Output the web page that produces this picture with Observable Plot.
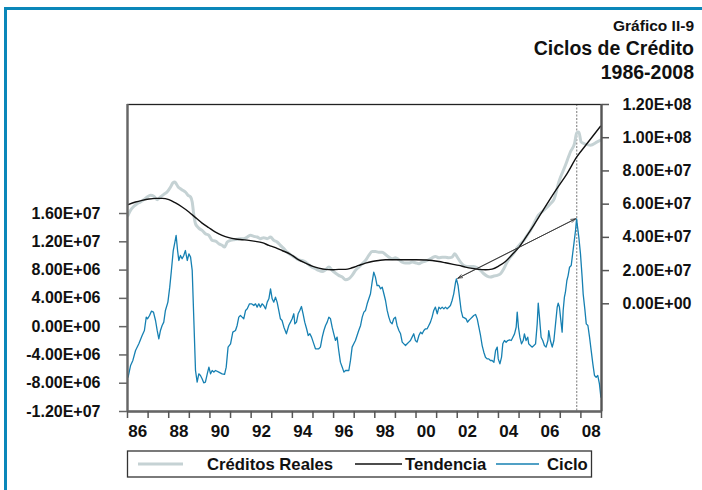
<!DOCTYPE html>
<html><head><meta charset="utf-8">
<script src="https://cdn.jsdelivr.net/npm/d3@7"></script>
<script src="https://cdn.jsdelivr.net/npm/@observablehq/plot@0.6"></script>
<style>
body{margin:0;background:#fff;font-family:"Liberation Sans",Arial,sans-serif;}
#wrap{position:relative;width:702px;height:490px;overflow:hidden;background:#fff;}
#chart,#over{position:absolute;left:0;top:0;}
</style></head>
<body><div id="wrap"><div id="chart"></div><svg id="over" width="702" height="490"></svg></div>
<script>
// values in millions (UNIT)
const UNIT = 1e6;

const cicloYears = [1986.03,1986.15,1986.26,1986.39,1986.55,1986.71,1986.82,1986.91,1986.97,1987.07,1987.16,1987.26,1987.36,1987.44,1987.52,1987.60,1987.68,1987.76,1987.84,1987.96,1988.05,1988.13,1988.22,1988.30,1988.36,1988.43,1988.49,1988.57,1988.65,1988.73,1988.81,1988.90,1988.98,1989.06,1989.14,1989.22,1989.30,1989.38,1989.46,1989.54,1989.62,1989.70,1989.78,1989.87,1989.95,1990.03,1990.11,1990.19,1990.27,1990.43,1990.59,1990.71,1990.79,1990.88,1991.00,1991.11,1991.24,1991.32,1991.40,1991.48,1991.56,1991.64,1991.73,1991.81,1991.92,1992.02,1992.13,1992.21,1992.29,1992.37,1992.45,1992.53,1992.61,1992.70,1992.78,1992.86,1992.94,1993.02,1993.10,1993.18,1993.26,1993.34,1993.42,1993.50,1993.59,1993.71,1993.83,1993.91,1993.99,1994.07,1994.12,1994.20,1994.28,1994.36,1994.44,1994.52,1994.60,1994.69,1994.77,1994.85,1994.93,1995.04,1995.12,1995.28,1995.36,1995.45,1995.53,1995.61,1995.69,1995.77,1995.85,1995.93,1996.01,1996.09,1996.17,1996.25,1996.33,1996.42,1996.50,1996.58,1996.66,1996.74,1996.82,1996.90,1996.98,1997.06,1997.14,1997.22,1997.31,1997.39,1997.47,1997.55,1997.63,1997.71,1997.79,1997.87,1997.95,1998.03,1998.11,1998.20,1998.28,1998.36,1998.44,1998.52,1998.60,1998.68,1998.76,1998.84,1998.92,1999.00,1999.08,1999.17,1999.25,1999.33,1999.41,1999.49,1999.57,1999.65,1999.73,1999.81,1999.89,1999.97,2000.05,2000.14,2000.22,2000.30,2000.38,2000.46,2000.54,2000.62,2000.70,2000.78,2000.86,2000.94,2001.03,2001.11,2001.19,2001.27,2001.35,2001.43,2001.51,2001.59,2001.67,2001.75,2001.83,2001.92,2001.96,2002.04,2002.11,2002.19,2002.27,2002.35,2002.43,2002.50,2002.56,2002.64,2002.72,2002.80,2002.89,2002.97,2003.05,2003.13,2003.21,2003.29,2003.37,2003.45,2003.53,2003.61,2003.69,2003.78,2003.86,2003.94,2003.99,2004.07,2004.15,2004.21,2004.29,2004.37,2004.45,2004.54,2004.62,2004.70,2004.78,2004.86,2004.91,2004.97,2005.04,2005.12,2005.20,2005.26,2005.34,2005.42,2005.47,2005.55,2005.63,2005.72,2005.80,2005.88,2005.93,2005.99,2006.07,2006.15,2006.23,2006.31,2006.40,2006.44,2006.52,2006.61,2006.69,2006.77,2006.85,2006.90,2006.96,2007.01,2007.09,2007.14,2007.20,2007.25,2007.32,2007.38,2007.45,2007.53,2007.58,2007.66,2007.74,2007.79,2007.83,2007.90,2007.98,2008.06,2008.11,2008.19,2008.26,2008.34,2008.42,2008.50,2008.58,2008.66,2008.74,2008.82,2008.90,2008.97];
const cicloValues = [-7.14,-5.49,-4.78,-3.37,-2.43,-1.25,-0.54,1.35,1.11,1.58,2.19,2.05,0.87,-0.54,-1.72,-0.54,0.17,0.64,2.29,3.47,5.59,7.95,10.77,11.95,12.90,10.77,9.36,10.07,9.60,10.07,10.77,9.36,10.30,9.83,7.95,0.87,-6.20,-7.85,-6.67,-6.91,-7.38,-7.94,-7.85,-6.67,-5.73,-6.67,-6.20,-6.43,-6.20,-6.43,-6.67,-6.76,-5.73,-2.90,-2.43,-0.78,-0.54,0.17,1.35,1.58,1.35,1.11,2.29,2.52,3.23,3.23,2.99,3.23,2.76,3.23,2.76,3.23,2.99,2.52,3.47,3.94,5.35,3.94,3.47,4.17,3.47,2.29,1.11,0.87,-0.07,-1.01,0.20,0.64,1.11,1.82,0.40,0.64,1.82,2.29,2.85,1.82,0.64,-0.30,-1.25,-1.01,-1.48,-2.43,-3.13,-3.13,-2.90,-1.48,-0.54,0.17,0.64,1.35,1.11,-0.07,-1.01,-1.95,-1.48,-3.37,-5.02,-5.73,-6.43,-6.20,-6.20,-6.20,-4.78,-2.90,-2.43,-1.95,-1.25,-0.54,0.17,1.35,2.05,2.29,3.23,3.94,4.65,6.30,7.71,7.00,5.82,5.82,5.35,5.59,4.65,3.70,2.29,1.35,0.64,0.40,1.11,1.35,0.17,-0.54,-1.01,-2.19,-2.43,-2.66,-2.43,-2.19,-1.95,-1.48,-1.01,-1.95,-2.19,-1.25,-0.78,-1.01,-0.54,-0.30,-0.30,0.17,0.64,1.35,2.29,2.76,1.82,2.76,2.52,2.76,2.52,2.76,2.52,2.75,2.99,3.70,4.64,6.29,6.76,5.82,4.17,2.28,1.34,1.24,1.10,0.63,0.87,1.10,1.34,1.57,1.72,1.10,-0.08,-1.25,-2.67,-3.61,-4.32,-4.56,-4.56,-4.79,-4.79,-5.03,-3.38,-2.90,-4.56,-5.26,-4.32,-2.43,-1.96,-2.20,-1.96,-1.87,-1.96,-1.49,-1.02,-0.08,2.05,-0.08,-1.49,-2.43,-1.96,-1.02,-1.96,-1.49,-2.43,-2.67,-2.90,-2.67,-2.43,0.39,3.32,1.34,-1.49,-1.96,-2.67,-2.90,-1.96,-0.55,-1.96,-2.90,-1.96,0.39,2.75,3.32,2.75,1.34,-0.78,2.28,4.17,4.87,6.53,7.23,8.41,8.65,9.83,11.71,13.60,15.25,14.30,12.65,10.30,7.00,4.64,2.52,0.39,0.16,-1.49,-3.38,-5.26,-6.91,-7.15,-6.91,-8.09,-9.98];

const creditosYears = [1986.03,1986.15,1986.31,1986.47,1986.63,1986.79,1986.95,1987.12,1987.28,1987.44,1987.60,1987.76,1987.92,1988.09,1988.20,1988.30,1988.36,1988.46,1988.57,1988.68,1988.81,1988.94,1989.06,1989.14,1989.22,1989.30,1989.38,1989.49,1989.62,1989.78,1989.95,1990.11,1990.27,1990.43,1990.59,1990.71,1990.84,1991.00,1991.16,1991.32,1991.48,1991.64,1991.81,1991.97,1992.13,1992.29,1992.45,1992.61,1992.78,1992.94,1993.10,1993.26,1993.42,1993.59,1993.75,1993.91,1994.15,1994.31,1994.47,1994.64,1994.80,1994.96,1995.12,1995.28,1995.45,1995.61,1995.77,1995.93,1996.09,1996.25,1996.42,1996.58,1996.74,1996.90,1997.06,1997.22,1997.39,1997.55,1997.71,1997.87,1998.03,1998.19,1998.36,1998.52,1998.68,1998.84,1999.00,1999.17,1999.33,1999.49,1999.65,1999.81,1999.97,2000.14,2000.30,2000.46,2000.62,2000.78,2000.94,2001.11,2001.27,2001.43,2001.59,2001.75,2001.88,2002.00,2002.16,2002.32,2002.48,2002.64,2002.80,2002.97,2003.13,2003.29,2003.45,2003.61,2003.78,2003.94,2004.10,2004.26,2004.42,2004.58,2004.75,2004.91,2005.07,2005.23,2005.39,2005.55,2005.72,2005.88,2006.20,2006.52,2006.70,2006.93,2007.25,2007.49,2007.69,2007.80,2007.90,2008.01,2008.14,2008.46,2008.79,2008.95];
const creditosValues = [53.3,56.3,58.7,60.3,61.3,62.7,64.3,65.3,64.7,62.7,64.3,65.9,67.3,70.3,72.8,73.4,72.4,70.3,69.3,68.3,67.3,65.3,64.3,61.3,53.3,48.2,46.6,45.2,44.2,42.2,41.2,38.2,37.8,36.2,35.2,34.2,37.2,38.2,38.6,38.8,39.2,39.2,40.2,41.2,40.6,40.2,39.2,39.8,39.2,40.2,38.2,37.2,35.2,33.2,31.1,29.6,27.7,26.5,26.1,25.1,23.5,22.1,21.1,20.1,19.5,20.5,22.1,20.1,18.5,17.1,16.1,14.5,15.1,17.1,20.1,22.1,24.1,26.1,29.1,31.5,31.5,31.1,31.1,29.7,28.1,27.1,27.7,26.5,25.1,24.5,24.5,25.1,24.7,24.1,25.1,25.7,26.5,27.7,28.5,27.7,28.1,28.1,27.7,28.1,30.1,28.1,25.1,23.1,22.5,22.5,22.5,21.7,20.1,18.1,16.7,16.1,16.7,17.1,18.1,21.1,25.1,28.1,30.6,33.8,36.2,38.2,41.2,44.2,48.2,52.3,56.3,60.3,63.0,73.4,83.4,91.4,96.5,102.9,103.5,97.5,96.5,95.5,97.5,98.5];

const tendenciaYears = [1986.03,1986.39,1986.71,1987.04,1987.36,1987.68,1988.01,1988.33,1988.65,1988.98,1989.30,1989.62,1989.95,1990.27,1990.59,1990.92,1991.24,1991.56,1991.89,1992.21,1992.53,1992.86,1993.18,1993.50,1993.91,1994.31,1994.64,1994.96,1995.28,1995.61,1995.93,1996.25,1996.58,1996.90,1997.22,1997.55,1997.87,1998.19,1998.52,1999.00,1999.50,2000.00,2000.50,2000.78,2001.11,2001.43,2001.75,2002.08,2002.40,2002.72,2003.05,2003.37,2003.69,2004.02,2004.34,2004.66,2004.99,2005.31,2005.71,2006.10,2006.52,2006.90,2007.33,2007.80,2008.30,2008.95];
const tendenciaValues = [59.7,61.3,62.3,63.1,63.5,63.5,62.7,60.7,58.3,55.3,51.9,48.6,45.8,43.2,41.2,39.8,39.0,38.6,38.2,37.6,36.8,35.2,33.8,32.1,29.8,26.5,24.5,22.7,21.5,20.7,20.5,20.7,20.7,21.7,23.1,24.5,25.5,26.1,26.5,26.5,26.5,26.5,26.4,26.1,25.5,24.7,23.9,23.1,22.1,21.3,20.7,20.5,20.9,22.8,25.5,29.5,34.0,39.7,47.2,55.0,63.3,70.5,78.4,88.4,96.5,106.9];

// axes
const leftTicks = [-12,-8,-4,0,4,8,12,16];          // millions
const rightTicks = [0,20,40,60,80,100,120];         // millions
const leftDomain = [-12, 31.42];
const rightDomain = [-64.85, 120];
const yearTicks = d3.range(1986, 2010);
const yearLabels = [1986,1988,1990,1992,1994,1996,1998,2000,2002,2004,2006,2008];
const peakYear = 2007.80;
const arrowYears = [2002.03, 2007.74];
const arrowValues = [6.85, 15.25];

const toLeft = d3.scaleLinear(rightDomain.map(v=>v*UNIT), leftDomain.map(v=>v*UNIT));

function sci(v){
  if (Math.abs(v) < 1) return "0.00E+00";
  const e = Math.floor(Math.log10(Math.abs(v)) + 1e-9);
  const m = v / Math.pow(10, e);
  return m.toFixed(2) + "E" + (e < 0 ? "-" : "+") + String(Math.abs(e)).padStart(2, "0");
}

const ciclo = cicloYears.map((t,i)=>({t, v: cicloValues[i]*UNIT}));
const creditos = creditosYears.map((t,i)=>({t, v: toLeft(creditosValues[i]*UNIT)}));
const tendencia = tendenciaYears.map((t,i)=>({t, v: toLeft(tendenciaValues[i]*UNIT)}));
const arrowRow = [{x1: arrowYears[0], y1: arrowValues[0]*UNIT, x2: arrowYears[1], y2: arrowValues[1]*UNIT}];

const COL_GRAY = "#c5d2d4", COL_BLUE = "#1680b2";

const plot = Plot.plot({
  width: 702, height: 490,
  marginLeft: 127, marginRight: 101, marginTop: 104, marginBottom: 79,
  x: {domain: [1986, 2009]},
  y: {domain: leftDomain.map(v=>v*UNIT)},
  style: {fontFamily: '"Liberation Sans", Arial, sans-serif', fontWeight: "bold", color: "#111", background: "transparent"},
  marks: [
    Plot.ruleX([peakYear], {stroke: "#555", strokeWidth: 0.8, strokeDasharray: "2,1.5"}),
    Plot.line(creditos, {x: "t", y: "v", stroke: COL_GRAY, strokeWidth: 3, curve: "monotone-x"}),
    Plot.line(tendencia, {x: "t", y: "v", stroke: "#111", strokeWidth: 1.4, curve: "monotone-x"}),
    Plot.line(ciclo, {x: "t", y: "v", stroke: COL_BLUE, strokeWidth: 1.3}),
    Plot.arrow(arrowRow, {x1: "x1", y1: "y1", x2: "x2", y2: "y2", stroke: "#333", strokeWidth: 0.8, headLength: 9, headAngle: 40}),
    Plot.arrow(arrowRow, {x1: "x2", y1: "y2", x2: "x1", y2: "y1", stroke: "#333", strokeWidth: 0.8, headLength: 9, headAngle: 40}),
    Plot.frame({stroke: "#222", strokeWidth: 1.3}),
    Plot.ruleX([1986], {stroke: "#666", strokeWidth: 2.3}),
    Plot.ruleX([2009], {stroke: "#555", strokeWidth: 2.3}),
    Plot.ruleY([leftDomain[0]*UNIT], {stroke: "#666", strokeWidth: 2.3}),
    Plot.axisX(yearTicks, {tickSize: 7, tickFormat: () => "", stroke: "#555", strokeWidth: 1.5, label: null}),
    Plot.axisX(yearLabels.map(y=>y+0.5), {tickSize: 0, tickPadding: 13, fontSize: 17, fontWeight: "bold",
      tickFormat: d => String(Math.floor(d) % 100).padStart(2, "0"), label: null}),
    Plot.axisY(leftTicks.map(v=>v*UNIT), {anchor: "left", tickSize: 8, tickPadding: 19, fontSize: 16, fontWeight: "bold",
      stroke: "#666", strokeWidth: 1.5, tickFormat: sci, label: null}),
    Plot.axisY(rightTicks.map(v=>toLeft(v*UNIT)), {anchor: "right", tickSize: 7, tickPadding: 14, fontSize: 16, fontWeight: "bold",
      stroke: "#555", strokeWidth: 1.5, tickFormat: d => sci(Math.round(toLeft.invert(d)/UNIT)*UNIT), label: null})
  ]
});
document.getElementById("chart").appendChild(plot);

// overlay: page frame, titles, legend
const o = d3.select("#over");
o.append("rect").attr("x",4).attr("y",7).attr("width",698).attr("height",3).attr("fill","#0a87b9");
o.append("rect").attr("x",4).attr("y",7).attr("width",3).attr("height",483).attr("fill","#0a87b9");
const ff = '"Liberation Sans", Arial, sans-serif';
const titles = [["Gráfico II-9", 31, 15.5], ["Ciclos de Crédito", 55, 19.5], ["1986-2008", 78.5, 19.5]];
titles.forEach(([s,y,fs]) => o.append("text").attr("x",694).attr("y",y).attr("text-anchor","end")
  .attr("font-family",ff).attr("font-weight","bold").attr("font-size",fs).attr("fill","#111").text(s));
o.append("rect").attr("x",127.5).attr("y",451).attr("width",464).attr("height",26)
  .attr("fill","none").attr("stroke","#333").attr("stroke-width",1.3);
const legend = [
  {label: "Créditos Reales", color: COL_GRAY, w: 3, x1: 138, x2: 183, tx: 207},
  {label: "Tendencia", color: "#111", w: 1.4, x1: 355, x2: 402, tx: 405},
  {label: "Ciclo", color: COL_BLUE, w: 1.3, x1: 496, x2: 539, tx: 547}
];
legend.forEach(l => {
  o.append("line").attr("x1",l.x1).attr("x2",l.x2).attr("y1",464).attr("y2",464)
    .attr("stroke",l.color).attr("stroke-width",l.w);
  o.append("text").attr("x",l.tx).attr("y",469.5).attr("font-family",ff).attr("font-weight","bold")
    .attr("font-size",16.7).attr("fill","#111").text(l.label);
});
</script>
</body></html>
